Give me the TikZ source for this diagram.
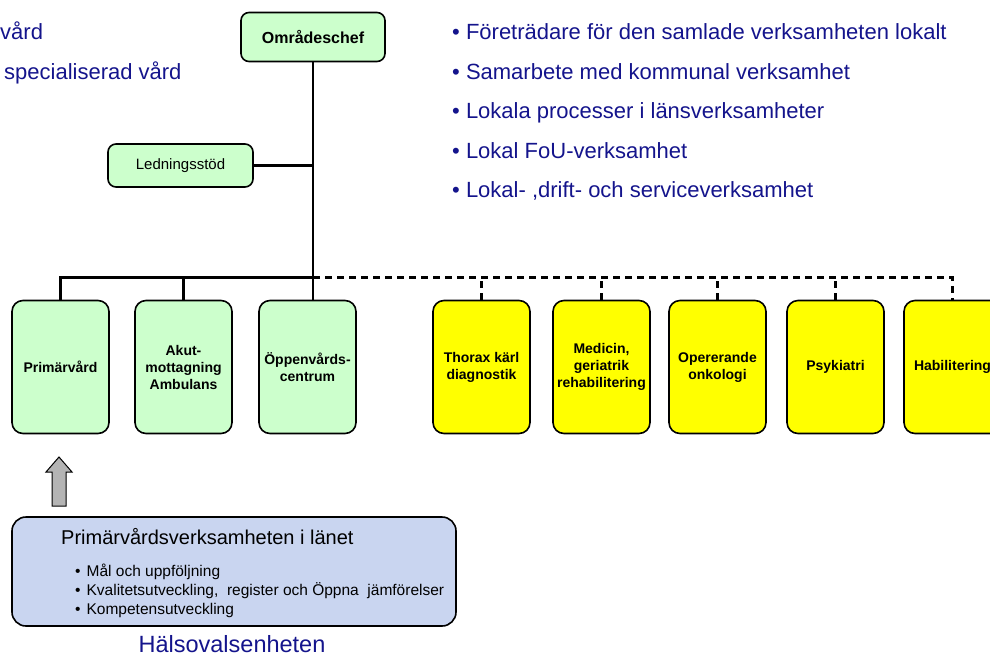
\documentclass[tikz,border=0pt]{standalone}
\usepackage{fontspec}
\setmainfont{Liberation Sans}
\definecolor{boxgreen}{HTML}{CCFFCC}
\definecolor{boxyellow}{HTML}{FFFF00}
\definecolor{boxblue}{HTML}{C9D5F0}
\definecolor{navy}{HTML}{14148C}
\definecolor{arrowgray}{HTML}{B4B4B4}
\tikzset{
  unit/.style={draw=black, line width=1.6pt, rounded corners=11pt, inner sep=1pt,
    minimum width=97pt, minimum height=133pt, align=center,
    font=\fontsize{14}{17}\selectfont\bfseries},
  greenunit/.style={unit, fill=boxgreen},
  yellowunit/.style={unit, fill=boxyellow},
  topbox/.style={draw=black, line width=1.6pt, fill=boxgreen, rounded corners=8pt, align=center},
  solidlink/.style={line width=2.4pt, black},
  dashlink/.style={line width=2.4pt, black, dash pattern=on 7pt off 5pt},
  bulletline/.style={anchor=west, text=navy, font=\fontsize{22}{26}\selectfont, inner sep=0pt,
    text height=15pt, text depth=4pt},
  itemline/.style={anchor=west, inner sep=0pt, font=\fontsize{15.5}{18}\selectfont,
    text height=11pt, text depth=3pt},
}
\begin{document}
\begin{tikzpicture}[x=1pt, y=-1pt]
\useasboundingbox (0,0) rectangle (990,657);

% management level
\node[topbox, minimum width=144pt, minimum height=49pt, font=\fontsize{16}{19}\selectfont\bfseries] (chef) at (313,37) {Områdeschef};
\node[topbox, minimum width=145pt, minimum height=43pt, font=\fontsize{15}{18}\selectfont] (stod) at (180.5,165.5) {Ledningsstöd};

% units under the area manager
\node[greenunit] (prim) at (60.5,367) {Primärvård};
\node[greenunit] (akut) at (183.5,367) {Akut-\\mottagning\\Ambulans};
\node[greenunit] (oppen) at (307.5,367) {Öppenvårds-\\centrum};

% county-wide units
\node[yellowunit] (thorax) at (481.5,367) {Thorax kärl\\diagnostik};
\node[yellowunit] (medicin) at (601.5,367) {Medicin,\\geriatrik\\rehabilitering};
\node[yellowunit] (oper) at (717.5,367) {Opererande\\onkologi};
\node[yellowunit] (psyk) at (835.5,367) {Psykiatri};
\node[yellowunit] (habil) at (952.5,367) {Habilitering};

% connectors
\coordinate (bus) at (313,277.5);
\coordinate (busend) at (952.5,277.5);
\draw[solidlink] (chef.south) -- (bus);
\draw[solidlink] (stod.east) -- (stod.east -| chef.south);
\draw[solidlink] (prim.north) |- (bus);
\draw[solidlink] (akut.north) -- (akut.north |- bus);
\draw[solidlink] (oppen.north -| bus) -- (bus);
\draw[dashlink] (bus) -- (busend) -- (habil.north);
\draw[dashlink] (thorax.north) -- (thorax.north |- bus);
\draw[dashlink] (medicin.north) -- (medicin.north |- bus);
\draw[dashlink] (oper.north) -- (oper.north |- bus);
\draw[dashlink] (psyk.north) -- (psyk.north |- bus);

% responsibilities of the area
\node[bulletline] (r1) at (452,34) {• Företrädare för den samlade verksamheten lokalt};
\node[bulletline] (r2) at (452,74) {• Samarbete med kommunal verksamhet};
\node[bulletline] (r3) at (452,113) {• Lokala processer i länsverksamheter};
\node[bulletline] (r4) at (452,153) {• Lokal FoU-verksamhet};
\node[bulletline] (r5) at (452,192) {• Lokal- ,drift- och serviceverksamhet};

\node[bulletline] (l1) at (0,34) {vård};
\node[bulletline] (l2) at (4,74) {specialiserad vård};

% primary care unit of the county
\node[draw=black, line width=1.6pt, fill=boxblue, rounded corners=14pt,
      minimum width=444pt, minimum height=109pt] (halso) at (234,571.5) {};
\node[anchor=west, inner sep=0pt, font=\fontsize{20}{24}\selectfont] (halsot) at (61,537) {Primärvårdsverksamheten i länet};
\node[itemline] (b1) at (75,572) {•\hspace{6pt}Mål och uppföljning};
\node[itemline] (b2) at (75,591) {•\hspace{6pt}Kvalitetsutveckling,\ \ register och Öppna\ \ jämförelser};
\node[itemline] (b3) at (75,610) {•\hspace{6pt}Kompetensutveckling};
\node[text=navy, font=\fontsize{23.5}{27}\selectfont, inner sep=0pt] (halsoname) at (232,644.5) {Hälsovalsenheten};

% upward arrow from the county unit to primary care
\coordinate (uptip) at (59,457);
\coordinate (upbase) at (59,506);
\draw[line width=1pt, fill=arrowgray, line join=miter]
  (upbase) ++(-7,0) -- ++(0,-34) -- ++(-6,0) -- (uptip) -- ++(13,15) -- ++(-6,0) -- ++(0,34) -- cycle;
\end{tikzpicture}
\end{document}
